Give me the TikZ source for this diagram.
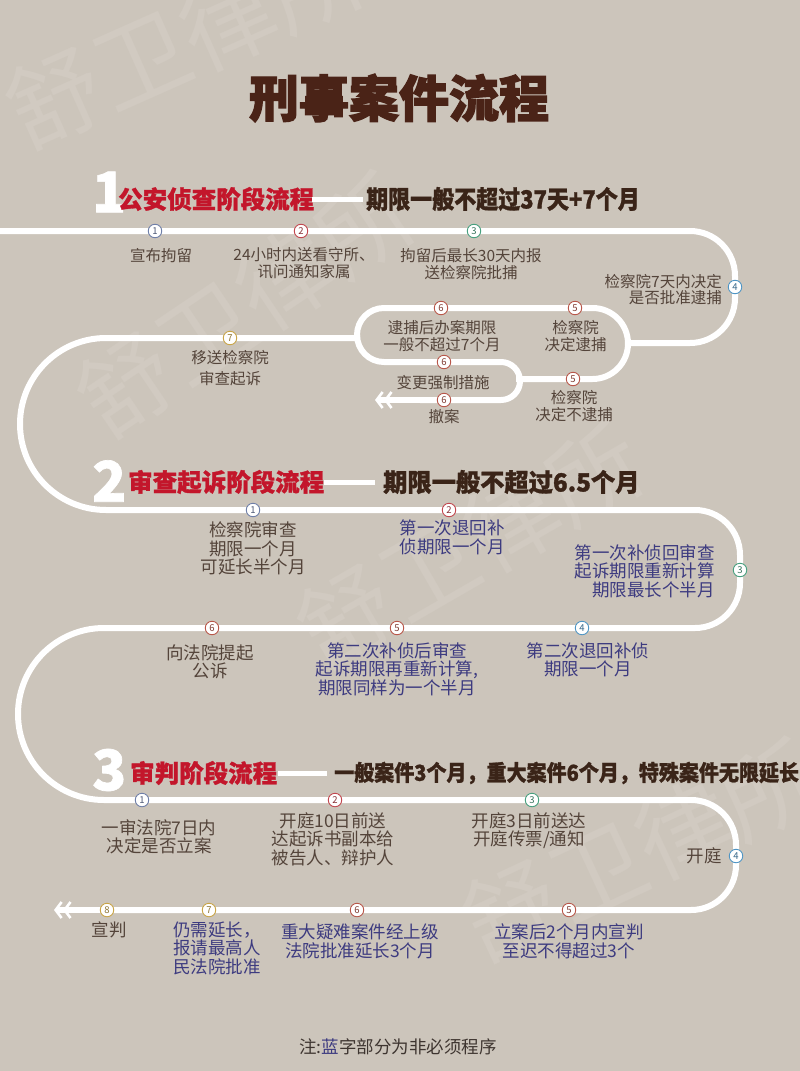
\documentclass[tikz,border=0pt]{standalone}
\usepackage{fontspec}
\usepackage{graphicx}
\usetikzlibrary{arrows.meta}
\newfontfamily\cjk{Noto Sans CJK SC}
\newfontfamily\cjkheavy{Noto Sans CJK SC}[FakeBold=1.2]
\newfontfamily\cjktitle{Noto Sans CJK SC}[FakeBold=2.5]
\definecolor{bgc}{HTML}{CCC5BB}
\definecolor{wmc}{HTML}{D1CAC1}
\definecolor{titlec}{HTML}{4A2317}
\definecolor{redc}{HTML}{C3162B}
\definecolor{headc}{HTML}{3A2418}
\definecolor{labc}{HTML}{54443A}
\definecolor{bluec}{HTML}{3D3B80}
\definecolor{footc}{HTML}{3E3530}
\definecolor{mA}{HTML}{6F7FA8}
\definecolor{mB}{HTML}{C2474F}
\definecolor{mC}{HTML}{47A07F}
\definecolor{mD}{HTML}{4F95C4}
\definecolor{mE}{HTML}{B8574A}
\definecolor{mF}{HTML}{C9A548}
\tikzset{
  road/.style={draw=white, line width=6pt},
  mk/.style={circle, draw=#1, fill=white, line width=0.9pt, inner sep=0pt, minimum size=13.5pt, text=#1!70!black, font=\cjk\fontsize{9.5}{9.5}\selectfont},
  lbs/.style={font=\cjk\fontsize{15.5}{#1}\selectfont, text=labc, align=center, inner sep=0pt},
  lbs/.default=17,
  lbl/.style={font=\cjk\fontsize{17.5}{18.5}\selectfont, text=labc, align=center, inner sep=0pt},
  bl/.style={lbl, text=bluec},
  bignum/.style={font=\cjkheavy\bfseries\fontsize{56}{56}\selectfont, text=white, inner sep=0pt, anchor=west},
  redhead/.style={font=\cjkheavy\bfseries\fontsize{24.5}{24.5}\selectfont, text=redc, inner sep=0pt, anchor=west},
  darkhead/.style={font=\cjkheavy\bfseries\fontsize{25}{25}\selectfont, text=headc, inner sep=0pt, anchor=west},
  hbar/.style={draw=white, line width=5pt},
  wm/.style={font=\cjk\fontsize{95}{95}\selectfont, text=wmc, inner sep=0pt},
  chevtip/.style={-{Straight Barb[length=6pt,width=16pt,line width=2.6pt] Straight Barb[length=6pt,width=16pt,line width=2.6pt]}}
}
\begin{document}
\begin{tikzpicture}[x=1pt,y=-1pt]
\useasboundingbox (0,0) rectangle (800,1071);
\fill[bgc] (0,0) rectangle (800,1071);
\clip (0,0) rectangle (800,1071);
% watermarks
\node[wm, rotate=24] (wm1) at (185,40) {舒卫律所};
\node[wm, rotate=34] (wm2) at (245,305) {舒卫律所};
\node[wm, rotate=30] (wm3) at (470,545) {舒卫律所};
\node[wm, rotate=25] (wm4) at (640,850) {舒卫律所};
% title
\node[font=\cjktitle\bfseries\fontsize{50}{50}\selectfont, text=titlec, inner sep=0pt] (title) at (399,98) {刑事案件流程};
% roads
\draw[road, rounded corners=45pt] (-5,231) -- (735,231) -- (735,343) -- (626,343);
\draw[road, rounded corners=19pt] (420,400) -- (520,400) -- (520,362) -- (440,362);
\draw[road, rounded corners=27pt] (440,362) -- (357,362) -- (357,308) -- (480,308);
\draw[road, rounded corners=35.5pt] (480,308) -- (628,308) -- (628,379) -- (516,379);
\draw[road, chevtip] (420,400) -- (375,400);
\draw[road, rounded corners=86pt] (360,338) -- (20,338) -- (20,510) -- (300,510);
\draw[road, rounded corners=45pt] (300,510) -- (740,510) -- (740,628) -- (300,628);
\draw[road, rounded corners=86pt] (300,628) -- (18,628) -- (18,800) -- (300,800);
\draw[road, rounded corners=45pt] (300,800) -- (736,800) -- (736,910) -- (100,910);
\draw[road, chevtip] (100,910) -- (54,910);
% section headers
\node[bignum] (h1n) at (92,192) {1};
\node[redhead] (h1r) at (118,199) {公安侦查阶段流程};
\draw[hbar] (312,199) -- (363,199);
\node[darkhead] (h1d) at (366,199) {\scalebox{0.88}[1]{期限一般不超过37天+7个月}};
\node[bignum] (h2n) at (92,481) {2};
\node[redhead] (h2r) at (128,482) {审查起诉阶段流程};
\draw[hbar] (324,482) -- (375,482);
\node[darkhead] (h2d) at (383,482) {\scalebox{0.97}[1]{期限一般不超过6.5个月}};
\node[bignum] (h3n) at (92,770) {3};
\node[redhead] (h3r) at (130,773) {审判阶段流程};
\draw[hbar] (278,773) -- (327,773);
\node[darkhead, font=\cjkheavy\bfseries\fontsize{22}{22}\selectfont] (h3d) at (334,773) {\scalebox{0.91}[1]{一般案件3个月，重大案件6个月，特殊案件无限延长}};
% section 1 markers
\node[mk=mA] (a1) at (155,231) {1};
\node[mk=mB] (a2) at (301,231) {2};
\node[mk=mC] (a3) at (474,231) {3};
\node[mk=mD] (a4) at (735,287) {4};
\node[mk=mE] (a5t) at (575,308) {5};
\node[mk=mE] (a6t) at (441,308) {6};
\node[mk=mE] (a6m) at (444,362) {6};
\node[mk=mE] (a5b) at (573,379) {5};
\node[mk=mE] (a6b) at (444,400) {6};
\node[mk=mF] (a7) at (230,338) {7};
% section 1 labels
\node[lbs] (t11) at (161,256) {宣布拘留};
\node[lbs] (t12) at (304,263) {24小时内送看守所、\\讯问通知家属};
\node[lbs] (t13) at (471,264) {拘留后最长30天内报\\送检察院批捕};
\node[lbs=16, align=right, anchor=east] (t14) at (722,290) {检察院7天内决定\\是否批准逮捕};
\node[lbs] (t16a) at (442,336.5) {逮捕后办案期限\\一般不超过7个月};
\node[lbs] (t15a) at (575.5,336.5) {检察院\\决定逮捕};
\node[lbs] (t16b) at (443,383) {变更强制措施};
\node[lbs] (t16c) at (444,417) {撤案};
\node[lbs] (t15b) at (574,406.5) {检察院\\决定不逮捕};
\node[lbs=21] (t17) at (230,368.5) {移送检察院\\审查起诉};
% section 2 markers
\node[mk=mA] (b1) at (253,510) {1};
\node[mk=mB] (b2) at (449,510) {2};
\node[mk=mC] (b3) at (740,570) {3};
\node[mk=mD] (b4) at (582,628) {4};
\node[mk=mE] (b5) at (397,628) {5};
\node[mk=mE] (b6) at (212,628) {6};
% section 2 labels
\node[lbl] (t21) at (253,548.5) {检察院审查\\期限一个月\\可延长半个月};
\node[bl] (t22) at (452,537.5) {第一次退回补\\侦期限一个月};
\node[bl, align=right, anchor=east] (t23) at (715,571) {第一次补侦回审查\\起诉期限重新计算\\期限最长个半月};
\node[bl] (t24) at (588,660) {第二次退回补侦\\期限一个月};
\node[bl] (t25) at (397,669) {第二次补侦后审查\\起诉期限再重新计算,\\期限同样为一个半月};
\node[lbl] (t26) at (210,661.5) {向法院提起\\公诉};
% section 3 markers
\node[mk=mA] (c1) at (142,800) {1};
\node[mk=mB] (c2) at (335,800) {2};
\node[mk=mC] (c3) at (532,800) {3};
\node[mk=mD] (c4) at (736,856) {4};
\node[mk=mE] (c5) at (569,910) {5};
\node[mk=mE] (c6) at (357,910) {6};
\node[mk=mF] (c7) at (209,910) {7};
\node[mk=mF] (c8) at (107,910) {8};
% section 3 labels
\node[lbl] (t31) at (159,837) {一审法院7日内\\决定是否立案};
\node[lbl] (t32) at (333,839) {开庭10日前送\\达起诉书副本给\\被告人、辩护人};
\node[lbl] (t33) at (529,830.5) {开庭3日前送达\\开庭传票/通知};
\node[lbl, anchor=east] (t34) at (722,856) {开庭};
\node[bl] (t35) at (569,941.5) {立案后2个月内宣判\\至迟不得超过3个};
\node[bl] (t36) at (360,941.5) {重大疑难案件经上级\\法院批准延长3个月};
\node[bl] (t37) at (217,948) {仍需延长，\\报请最高人\\民法院批准};
\node[lbl] (t38) at (109,930) {宣判};
% footer
\node[font=\cjk\fontsize{17.5}{17.5}\selectfont, text=footc, inner sep=0pt] (note) at (398,1047) {注:{\color{bluec}蓝}字部分为非必须程序};
\end{tikzpicture}
\end{document}
